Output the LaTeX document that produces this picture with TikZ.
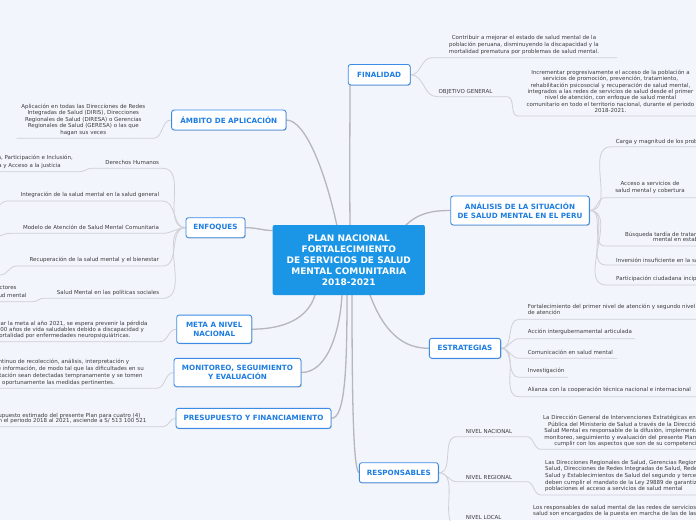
\documentclass[tikz,border=0pt]{standalone}
\usepackage{fontspec}
\setmainfont{DejaVu Sans}
\usetikzlibrary{shadows}
\definecolor{bgc}{RGB}{242,245,252}
\definecolor{centralc}{RGB}{27,150,230}
\definecolor{topicb}{RGB}{60,140,230}
\definecolor{topict}{RGB}{30,125,225}
\definecolor{mainl}{RGB}{182,182,188}
\definecolor{subl}{RGB}{208,208,214}
\definecolor{subt}{RGB}{60,60,60}
\pgfdeclarelayer{bg}
\pgfsetlayers{bg,main}
\tikzset{
  topic/.style={draw=topicb, fill=white, line width=0.9pt, rounded corners=2.5pt, text=topict,
    font=\fontsize{7.2}{8.8}\selectfont\bfseries, align=center, inner sep=0pt,
    drop shadow={shadow xshift=0.7pt, shadow yshift=-0.7pt, opacity=0.25, fill=black}},
  central/.style={fill=centralc, rounded corners=2pt, text=white,
    font=\fontsize{9}{11}\selectfont\bfseries, align=center, inner sep=0pt,
    minimum width=152.3pt, minimum height=70pt},
  subtxt/.style={inner sep=0pt, text=subt, font=\fontsize{5.5}{6.5}\selectfont},
  mainline/.style={draw=mainl, line width=1.3pt},
  subline/.style={draw=subl, line width=0.8pt},
  sc/.style={out=0,in=180},
  scl/.style={out=180,in=0}
}
\begin{document}
\begin{tikzpicture}[x=1pt,y=-1pt]
\useasboundingbox (0,0) rectangle (696,520);
\clip (0,0) rectangle (696,520);

% ---------- central and main topics ----------
\node[central] (c) at (348.8,260) {PLAN NACIONAL\\FORTALECIMIENTO\\DE SERVICIOS DE SALUD\\MENTAL COMUNITARIA\\2018-2021};
\node[topic, minimum width=62pt, minimum height=20.5pt] (fin) at (379.2,74.7) {FINALIDAD};
\node[topic, minimum width=138.6pt, minimum height=29pt] (ana) at (520,210.5) {ANÁLISIS DE LA SITUACIÓN\\DE SALUD MENTAL EN EL PERU};
\node[topic, minimum width=71.3pt, minimum height=20pt] (est) at (465,348.3) {ESTRATEGIAS};
\node[topic, minimum width=79pt, minimum height=20pt] (res) at (398.8,472.7) {RESPONSABLES};
\node[topic, minimum width=114.3pt, minimum height=20pt] (amb) at (228.8,120) {ÁMBITO DE APLICACIÓN};
\node[topic, minimum width=59pt, minimum height=20pt] (enf) at (215.5,227.7) {ENFOQUES};
\node[topic, minimum width=75pt, minimum height=28.3pt] (meta) at (214.2,329.2) {META A NIVEL\\NACIONAL};
\node[topic, minimum width=127pt, minimum height=28.4pt] (mon) at (237.5,372.5) {MONITOREO, SEGUIMIENTO\\Y EVALUACIÓN};
\node[topic, minimum width=155pt, minimum height=20pt] (pre) at (253.5,418.3) {PRESUPUESTO Y FINANCIAMIENTO};

% ---------- anchor coordinates on central node ----------
\coordinate (cAmb) at (337,226);
\coordinate (cFin) at (350,226);
\coordinate (cAna) at (405,226);
\coordinate (cEnf) at (272.7,230.5);
\coordinate (cMeta) at (315,295);
\coordinate (cMon) at (342,295);
\coordinate (cPre) at (347,295);
\coordinate (cRes) at (352,295);
\coordinate (cEst) at (370,295);
\coordinate (fFin) at (350,85);

% ---------- sub texts: FINALIDAD ----------
\node[subtxt, align=center, font=\fontsize{5.5}{6.7}\selectfont] (f1) at (524,45) {Contribuir a mejorar el estado de salud mental de la\\población peruana, disminuyendo la discapacidad y la\\mortalidad prematura por problemas de salud mental.};
\node[subtxt] (f2) at (465.5,92.3) {OBJETIVO GENERAL};
\node[subtxt, align=center, font=\fontsize{5.5}{6.33}\selectfont] (f3) at (610.5,91.3) {Incrementar progresivamente el acceso de la población a\\servicios de promoción, prevención, tratamiento,\\rehabilitación psicosocial y recuperación de salud mental,\\integrados a las redes de servicios de salud desde el primer\\nivel de atención, con enfoque de salud mental\\comunitario en todo el territorio nacional, durante el periodo\\2018-2021.};
\coordinate (f1s) at (431.7,57.7); \coordinate (f1e) at (617,57.7);
\coordinate (f2s) at (437,96.7); \coordinate (f2e) at (507,96.7);
\coordinate (f3s) at (518,116); \coordinate (f3e) at (700,116);

% ---------- ANÁLISIS ----------
\node[subtxt, anchor=west] (a1) at (615.7,141.7) {Carga y magnitud de los problemas de salud mental};
\node[subtxt, align=center, font=\fontsize{5.5}{7}\selectfont] (a2) at (650,187.8) {Acceso a servicios de\\salud mental y cobertura};
\node[subtxt, align=left, anchor=west, font=\fontsize{5.5}{5.8}\selectfont] (a3) at (625,236.9) {Búsqueda tardía de tratamiento en salud\\\hspace*{28pt}mental en establecimientos de salud};
\node[subtxt, anchor=west] (a4) at (616,260) {Inversión insuficiente en la salud mental};
\node[subtxt, anchor=west] (a5) at (616,279.3) {Participación ciudadana incipiente};
\coordinate (a1s) at (611,146.7); \coordinate (a1e) at (700,146.7);
\coordinate (a2s) at (605,197.7); \coordinate (a2e) at (700,197.7);
\coordinate (a3s) at (605,246); \coordinate (a3e) at (700,246);
\coordinate (a4s) at (606,265); \coordinate (a4e) at (700,265);
\coordinate (a5s) at (606,285); \coordinate (a5e) at (700,285);

% ---------- ESTRATEGIAS ----------
\node[subtxt, align=left, anchor=west, font=\fontsize{5.5}{6.7}\selectfont] (s1) at (527.7,309.3) {Fortalecimiento del primer nivel de atención y segundo nivel\\de atención};
\node[subtxt, anchor=west] (s2) at (527.7,332.3) {Acción intergubernamental articulada};
\node[subtxt, anchor=west] (s3) at (527.7,352) {Comunicación en salud mental};
\node[subtxt, anchor=west] (s4) at (527.7,371) {Investigación};
\node[subtxt, anchor=west] (s5) at (527.7,390) {Alianza con la cooperación técnica nacional e internacional};
\coordinate (s1s) at (519,319.3); \coordinate (s1e) at (700,319.3);
\coordinate (s2s) at (519,338.7); \coordinate (s2e) at (635,338.7);
\coordinate (s3s) at (519,358.3); \coordinate (s3e) at (617,358.3);
\coordinate (s4s) at (519,377.3); \coordinate (s4e) at (568,377.3);
\coordinate (s5s) at (519,396.7); \coordinate (s5e) at (700,396.7);

% ---------- RESPONSABLES ----------
\node[subtxt, anchor=west] (r1) at (465.7,431) {NIVEL NACIONAL};
\node[subtxt, align=center, font=\fontsize{5.5}{6.6}\selectfont] (r1p) at (628,431) {La Dirección General de Intervenciones Estratégicas en Salud\\Pública del Ministerio de Salud a través de la Dirección de\\Salud Mental es responsable de la difusión, implementación,\\monitoreo, seguimiento y evaluación del presente Plan, y de\\cumplir con los aspectos que son de su competencia.};
\node[subtxt, anchor=west] (r2) at (465.7,477.3) {NIVEL REGIONAL};
\node[subtxt, align=left, anchor=west, font=\fontsize{5.5}{6.65}\selectfont] (r2p) at (545,476) {Las Direcciones Regionales de Salud, Gerencias Regionales de\\Salud, Direcciones de Redes Integradas de Salud, Redes de\\Salud y Establecimientos de Salud del segundo y tercer nivel\\deben cumplir el mandato de la Ley 29889 de garantizar a las\\poblaciones el acceso a servicios de salud mental};
\node[subtxt, anchor=west] (r3) at (465.7,517.7) {NIVEL LOCAL};
\node[subtxt, align=left, anchor=west, font=\fontsize{5.5}{5.8}\selectfont] (r3p) at (533,511.3) {Los responsables de salud mental de las redes de servicios de\\salud son encargados de la puesta en marcha de las de las acciones};
\coordinate (r1s) at (456.7,436.7); \coordinate (r1e) at (526.7,436.7);
\coordinate (r1ps) at (541,449.3); \coordinate (r1pe) at (700,449.3);
\coordinate (r2s) at (456.7,481.7); \coordinate (r2e) at (526.7,481.7);
\coordinate (r2ps) at (541,495); \coordinate (r2pe) at (700,495);
\coordinate (r3s) at (459,527);

% ---------- ÁMBITO ----------
\node[subtxt, align=center] (m1) at (83.3,119.7) {Aplicación en todas las Direcciones de Redes\\Integradas de Salud (DIRIS), Direcciones\\Regionales de Salud (DIRESA) o Gerencias\\Regionales de Salud (GERESA) o las que\\hagan sus veces};
\coordinate (m1e) at (153.3,138.3); \coordinate (m1s) at (16.7,138.3);

% ---------- ENFOQUES ----------
\node[subtxt, anchor=east] (e1) at (159.3,162.7) {Derechos Humanos};
\node[subtxt, align=right, anchor=east, font=\fontsize{5.5}{7.7}\selectfont] (e1g) at (73,162.2) {Igualdad y No Discriminación, Participación e Inclusión,\\Rendición de Cuentas, Transparencia y Acceso a la justicia\kern12pt};
\node[subtxt, anchor=east] (e2) at (159.3,195) {Integración de la salud mental en la salud general};
\node[subtxt, anchor=east] (e3) at (159.3,227.7) {Modelo de Atención de Salud Mental Comunitaria};
\node[subtxt, anchor=east] (e4) at (159.3,260) {Recuperación de la salud mental y el bienestar};
\node[subtxt, anchor=east] (e5) at (159.3,292.7) {Salud Mental en las políticas sociales};
\node[subtxt, align=right, anchor=east, font=\fontsize{5.5}{7.7}\selectfont] (e5g) at (26.7,292.2) {Articulación con otros sectores\kern10pt\\para la promoción de la salud mental};
\coordinate (e1e) at (163,168.3); \coordinate (e1s) at (91.7,168.3);
\coordinate (e1ge) at (80,171.7); \coordinate (e1gs) at (-5,171.7);
\coordinate (e2e) at (163,201); \coordinate (e2s) at (6.7,201); \coordinate (e2g) at (-8,210);
\coordinate (e3e) at (163,233.3); \coordinate (e3s) at (10,233.3); \coordinate (e3g) at (-6,237);
\coordinate (e4e) at (163,266); \coordinate (e4s) at (16.7,266);
\coordinate (e4ge) at (0,275); \coordinate (e4gs) at (-5,275);
\coordinate (e5e) at (163,298.3); \coordinate (e5s) at (43.3,298.3);
\coordinate (e5ge) at (33,301.7); \coordinate (e5gs) at (-5,301.7);

% ---------- META / MONITOREO / PRESUPUESTO ----------
\node[subtxt, align=right, anchor=east, font=\fontsize{5.5}{6.3}\selectfont] (mt) at (147.7,329.7) {Para alcanzar la meta al año 2021, se espera prevenir la pérdida\\de 100 000 años de vida saludables debido a discapacidad y\kern3.7pt\\mortalidad por enfermedades neuropsiquiátricas.\kern17pt};
\node[subtxt, align=right, anchor=east, font=\fontsize{5.5}{6.9}\selectfont] (mo) at (144,372.2) {Proceso continuo de recolección, análisis, interpretación y\kern14.7pt\\difusión de información, de modo tal que las dificultades en su\\implementación sean detectadas tempranamente y se tomen\kern1.3pt\\oportunamente las medidas pertinentes.\kern29pt};
\node[subtxt, align=right, anchor=east, font=\fontsize{5.5}{5.8}\selectfont] (pr) at (146.7,418.5) {El presupuesto estimado del presente Plan para cuatro (4)\kern6pt\\años, en el periodo 2018 al 2021, asciende a S/ 513 100 521};
\coordinate (mte) at (160,341.7); \coordinate (mts) at (-5,341.7);
\coordinate (moe) at (156.7,388.3); \coordinate (mos) at (-5,388.3);
\coordinate (pre2) at (163,426.7); \coordinate (prs) at (-5,426.7);

% ---------- connectors (background layer) ----------
\begin{pgfonlayer}{bg}
\fill[bgc] (0,0) rectangle (696,520);
% main
\draw[mainline] (amb.east) .. controls (305,120) and (325,170) .. (cAmb);
\draw[mainline] (cFin) .. controls (349.5,170) and (350,120) .. (fFin);
\draw[mainline] (cAna) .. controls (418,213) and (432,210.5) .. (ana.west);
\draw[mainline] (enf.east) .. controls (258,227.7) and (262,230.5) .. (cEnf);
\draw[mainline] (meta.east) .. controls (285,329) and (308,318) .. (cMeta);
\draw[mainline] (mon.east) .. controls (328,372.5) and (340,330) .. (cMon);
\draw[mainline] (pre.east) .. controls (345,418.3) and (347,370) .. (cPre);
\draw[mainline] (cRes) .. controls (352,420) and (354,468) .. (res.west);
\draw[mainline] (cEst) .. controls (385,335) and (405,348.3) .. (est.west);
% finalidad
\draw[subline] (fin.east) to[sc] (f1s) -- (f1e);
\draw[subline] (fin.east) to[sc] (f2s) -- (f2e) to[sc] (f3s) -- (f3e);
% analisis
\draw[subline] (ana.east) to[sc] (a1s) -- (a1e);
\draw[subline] (ana.east) to[sc] (a2s) -- (a2e);
\draw[subline] (ana.east) to[sc] (a3s) -- (a3e);
\draw[subline] (ana.east) to[sc] (a4s) -- (a4e);
\draw[subline] (ana.east) to[sc] (a5s) -- (a5e);
% estrategias
\draw[subline] (est.east) to[sc] (s1s) -- (s1e);
\draw[subline] (est.east) to[sc] (s2s) -- (s2e);
\draw[subline] (est.east) to[sc] (s3s) -- (s3e);
\draw[subline] (est.east) to[sc] (s4s) -- (s4e);
\draw[subline] (est.east) to[sc] (s5s) -- (s5e);
% responsables
\draw[subline] (res.east) to[sc] (r1s) -- (r1e) to[sc] (r1ps) -- (r1pe);
\draw[subline] (res.east) to[sc] (r2s) -- (r2e) to[sc] (r2ps) -- (r2pe);
\draw[subline] (res.east) to[sc] (r3s);
% ambito
\draw[subline] (amb.west) to[scl] (m1e) -- (m1s);
% enfoques
\draw[subline] (enf.west) to[scl] (e1e) -- (e1s) to[scl] (e1ge) -- (e1gs);
\draw[subline] (enf.west) to[scl] (e2e) -- (e2s) to[scl] (e2g);
\draw[subline] (enf.west) to[scl] (e3e) -- (e3s) to[scl] (e3g);
\draw[subline] (enf.west) to[scl] (e4e) -- (e4s) to[scl] (e4ge) -- (e4gs);
\draw[subline] (enf.west) to[scl] (e5e) -- (e5s) to[scl] (e5ge) -- (e5gs);
% meta, monitoreo, presupuesto
\draw[subline] (meta.west) to[scl] (mte) -- (mts);
\draw[subline] (mon.west) to[scl] (moe) -- (mos);
\draw[subline] (pre.west) to[scl] (pre2) -- (prs);
\end{pgfonlayer}
\end{tikzpicture}
\end{document}
